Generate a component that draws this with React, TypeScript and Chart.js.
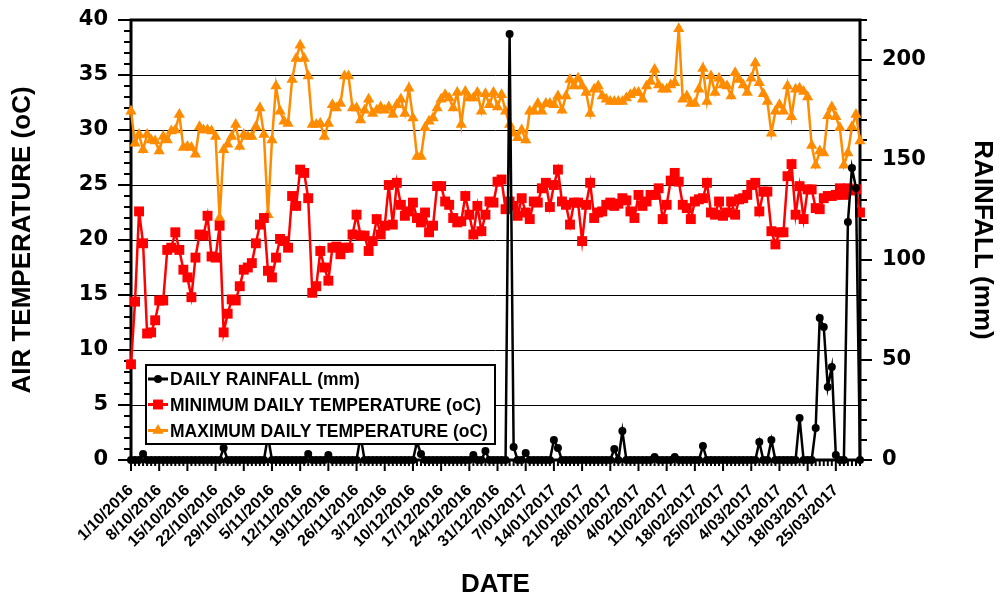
import React, { useEffect, useRef } from 'react';
import { Chart, registerables } from 'chart.js';

Chart.register(...registerables);

// ---- DATA (one value per day, 1/10/2016 .. 31/03/2017) ----
const TICK_LABELS = [
  '1/10/2016', '8/10/2016', '15/10/2016', '22/10/2016', '29/10/2016', '5/11/2016',
  '12/11/2016', '19/11/2016', '26/11/2016', '3/12/2016', '10/12/2016', '17/12/2016',
  '24/12/2016', '31/12/2016', '7/01/2017', '14/01/2017', '21/01/2017', '28/01/2017',
  '4/02/2017', '11/02/2017', '18/02/2017', '25/02/2017', '4/03/2017', '11/03/2017',
  '18/03/2017', '25/03/2017',
];

const RAINFALL = [
  0, 0, 0, 3, 0, 0, 0, 0, 0, 0, 0, 0, 0, 0,
  0, 0, 0, 0, 0, 0, 0, 0, 0, 6, 0, 0, 0, 0,
  0, 0, 0, 0, 0, 0, 12, 0, 0, 0, 0, 0, 0, 0,
  0, 0, 3, 0, 0, 0, 0, 2.5, 0, 0, 0, 0, 0, 0,
  0, 12, 0, 0, 0, 0, 0, 0, 0, 0, 0, 0, 0, 0,
  0, 9, 3, 0, 0, 0, 0, 0, 0, 0, 0, 0, 0, 0,
  0, 2.5, 0, 0, 4.5, 0, 0, 0, 0, 0, 213, 6.5, 0, 0,
  3.5, 0, 0, 0, 0, 0, 0, 10, 6, 0, 0, 0, 0, 0,
  0, 0, 0, 0, 0, 0, 0, 0, 5.5, 0, 14.5, 0, 0, 0,
  0, 0, 0, 0, 1.5, 0, 0, 0, 0, 1.5, 0, 0, 0, 0,
  0, 0, 7, 0, 0, 0, 0, 0, 0, 0, 0, 0, 0, 0,
  0, 0, 9, 0, 0, 10, 0, 0, 0, 0, 0, 0, 21, 0,
  0, 0, 16, 71, 66.5, 36.5, 46.5, 2.5, 0, 0, 119, 146, 136, 0,
];

const MIN_TEMP = [
  8.7, 14.4, 22.6, 19.7, 11.5, 11.6, 12.7, 14.5, 14.5, 19.1, 19.3, 20.7, 19.1, 17.3,
  16.6, 14.8, 18.4, 20.5, 20.4, 22.2, 18.5, 18.4, 21.3, 11.6, 13.3, 14.6, 14.5, 15.8,
  17.3, 17.5, 17.9, 19.7, 21.4, 22.0, 17.2, 16.6, 18.4, 20.1, 19.9, 19.3, 24.0, 23.1,
  26.4, 26.1, 23.8, 15.2, 15.8, 19.0, 17.5, 16.3, 19.3, 19.4, 18.7, 19.3, 19.3, 20.5,
  22.3, 20.4, 20.4, 19.0, 19.9, 21.9, 20.5, 21.3, 25.0, 21.4, 25.2, 23.2, 22.2, 22.6,
  23.4, 22.0, 21.6, 22.5, 20.7, 21.3, 24.9, 24.9, 23.5, 23.2, 22.0, 21.6, 21.7, 24.0,
  22.3, 20.5, 23.1, 20.8, 22.3, 23.5, 23.4, 25.3, 25.5, 22.8, 23.5, 23.1, 22.2, 23.8,
  22.5, 21.9, 23.5, 23.4, 24.7, 25.2, 23.0, 25.0, 26.4, 23.5, 23.2, 21.4, 23.4, 23.4,
  19.9, 23.2, 25.2, 22.0, 22.5, 22.6, 23.2, 23.4, 23.1, 23.3, 23.8, 23.6, 22.6, 22.0,
  24.1, 23.1, 23.5, 24.1, 24.1, 24.7, 21.9, 23.2, 25.4, 26.1, 25.3, 23.2, 22.9, 21.9,
  23.5, 23.7, 23.8, 25.2, 22.5, 22.3, 23.5, 22.2, 22.5, 23.5, 22.3, 23.7, 23.8, 24.1,
  25.0, 25.2, 22.6, 24.4, 24.4, 20.8, 19.6, 20.7, 20.7, 25.8, 26.9, 22.3, 24.9, 21.9,
  24.6, 24.6, 22.9, 22.8, 23.8, 24.0, 24.0, 24.1, 24.7, 24.1, 24.7, 24.5, 24.6, 22.5,
];

const MAX_TEMP = [
  31.7, 28.8, 29.6, 28.2, 29.6, 29.1, 29.0, 28.1, 29.4, 29.1, 29.9, 30.0, 31.4, 28.4,
  28.5, 28.4, 27.8, 30.3, 30.0, 30.0, 29.9, 29.4, 22.0, 28.2, 28.7, 29.4, 30.5, 28.5,
  29.6, 29.4, 29.4, 30.3, 32.0, 29.6, 22.3, 29.1, 34.0, 31.7, 30.8, 30.6, 34.6, 36.5,
  37.7, 36.5, 34.9, 30.5, 30.5, 30.6, 29.4, 30.6, 32.3, 32.0, 32.4, 34.9, 34.9, 32.0,
  32.0, 30.9, 31.8, 32.8, 31.5, 31.8, 32.1, 31.8, 32.1, 31.4, 32.3, 32.8, 31.5, 33.8,
  31.1, 27.6, 27.6, 30.2, 30.8, 31.1, 32.0, 32.8, 33.2, 32.9, 32.0, 33.4, 30.5, 33.5,
  32.9, 32.9, 33.4, 31.7, 33.3, 32.3, 33.4, 32.1, 33.2, 31.7, 30.5, 29.7, 29.3, 30.0,
  29.1, 31.7, 31.7, 32.4, 31.7, 32.4, 32.4, 32.3, 33.1, 31.8, 33.1, 34.6, 34.0, 34.7,
  34.0, 33.4, 31.5, 33.7, 34.0, 33.1, 32.8, 32.6, 32.6, 32.6, 32.6, 32.9, 33.2, 33.4,
  33.4, 32.8, 34.0, 34.4, 35.5, 34.1, 33.7, 33.7, 34.1, 34.3, 39.2, 32.8, 33.1, 32.4,
  32.4, 33.7, 35.6, 32.6, 34.9, 33.4, 34.7, 34.1, 34.0, 33.1, 35.2, 34.6, 34.1, 33.4,
  34.7, 36.1, 34.3, 33.3, 32.6, 29.7, 31.7, 32.3, 31.7, 34.0, 31.2, 33.7, 33.8, 33.5,
  33.0, 28.6, 26.8, 28.1, 27.9, 31.3, 32.1, 31.2, 30.2, 26.8, 27.9, 30.3, 31.4, 29.0,
];

const SERIES_NAMES = [
  'DAILY RAINFALL (mm)',
  'MINIMUM DAILY TEMPERATURE (oC)',
  'MAXIMUM DAILY TEMPERATURE (oC)',
];

const FONT = "'Liberation Sans', Arial, Helvetica, sans-serif";
const NUM_FONT = "'DejaVu Sans', 'Liberation Sans', sans-serif";
const ORANGE = '#FF8C00';
const RED = '#FF0000';
const BLACK = '#000000';
const CLEAR = 'rgba(0,0,0,0)';

function drawMarker(ctx: CanvasRenderingContext2D, style: string, x: number, y: number, r: number, color: string) {
  ctx.fillStyle = color;
  ctx.beginPath();
  if (style === 'circle') {
    ctx.arc(x, y, r, 0, Math.PI * 2);
  } else if (style === 'rect') {
    const s = r * Math.SQRT1_2;
    ctx.rect(x - s, y - s, 2 * s, 2 * s);
  } else {
    let rad = 0;
    ctx.moveTo(x + Math.sin(rad) * r, y - Math.cos(rad) * r);
    rad += (2 * Math.PI) / 3;
    ctx.lineTo(x + Math.sin(rad) * r, y - Math.cos(rad) * r);
    rad += (2 * Math.PI) / 3;
    ctx.lineTo(x + Math.sin(rad) * r, y - Math.cos(rad) * r);
    ctx.closePath();
  }
  ctx.fill();
}

const decor = {
  id: 'decor',
  beforeDatasetsDraw(chart: any) {
    const { ctx, chartArea: a, scales } = chart;
    ctx.save();
    ctx.strokeStyle = BLACK;
    ctx.lineWidth = 2;
    ctx.beginPath();
    for (let v = 0; v <= 40; v += 1) {
      const y = scales.y.getPixelForValue(v);
      const len = v % 5 === 0 ? 13 : 7;
      ctx.moveTo(a.left - len, y);
      ctx.lineTo(a.left, y);
    }
    for (let v = 0; v <= 220; v += 10) {
      const y = scales.y1.getPixelForValue(v);
      const len = v % 50 === 0 ? 12 : 7;
      ctx.moveTo(a.right, y);
      ctx.lineTo(a.right + len, y);
    }
    for (let d = 0; d < MAX_TEMP.length; d += 1) {
      const x = scales.x.getPixelForValue(d);
      const len = d % 7 === 0 ? 11 : 6;
      ctx.moveTo(x, a.bottom);
      ctx.lineTo(x, a.bottom + len);
    }
    ctx.stroke();
    ctx.lineWidth = 3;
    ctx.strokeRect(a.left, a.top, a.right - a.left, a.bottom - a.top);
    ctx.restore();
  },
  afterDraw(chart: any) {
    const { ctx, chartArea: a } = chart;
    const left = a.left + 15;
    const top = a.top + 345;
    const w = 349;
    const h = 79;
    ctx.save();
    ctx.fillStyle = '#ffffff';
    ctx.fillRect(left, top, w, h);
    ctx.strokeStyle = BLACK;
    ctx.lineWidth = 2;
    ctx.strokeRect(left, top, w, h);
    const rows = [14, 39.5, 65.5];
    chart.data.datasets.forEach((ds: any, i: number) => {
      const cy = top + rows[i];
      ctx.strokeStyle = ds.borderColor;
      ctx.lineWidth = 3;
      ctx.beginPath();
      ctx.moveTo(left + 2, cy);
      ctx.lineTo(left + 22, cy);
      ctx.stroke();
      drawMarker(ctx, ds.pointStyle, left + 12, cy, ds.pointRadius, ds.backgroundColor);
      ctx.fillStyle = BLACK;
      ctx.font = `bold 17.5px ${FONT}`;
      ctx.textAlign = 'left';
      ctx.textBaseline = 'alphabetic';
      ctx.fillText(ds.label, left + 24, cy + 6.3);
    });
    ctx.restore();
  },
};

export default function App() {
  const ref = useRef<HTMLCanvasElement>(null);

  useEffect(() => {
    document.body.style.margin = '0';
    const toPts = (arr: number[]) => arr.map((v, i) => ({ x: i, y: v }));
    const chart = new Chart(ref.current as HTMLCanvasElement, {
      type: 'line',
      data: {
        datasets: [
          {
            label: SERIES_NAMES[0],
            data: toPts(RAINFALL),
            yAxisID: 'y1',
            borderColor: BLACK,
            backgroundColor: BLACK,
            borderWidth: 2.5,
            pointStyle: 'circle',
            pointRadius: 4,
            pointBorderWidth: 0,
            pointBackgroundColor: BLACK,
            clip: false,
            order: 0,
          },
          {
            label: SERIES_NAMES[1],
            data: toPts(MIN_TEMP),
            yAxisID: 'y',
            borderColor: RED,
            backgroundColor: RED,
            borderWidth: 2.5,
            pointStyle: 'rect',
            pointRadius: 7,
            pointBorderWidth: 0,
            pointBackgroundColor: RED,
            clip: false,
            order: 1,
          },
          {
            label: SERIES_NAMES[2],
            data: toPts(MAX_TEMP),
            yAxisID: 'y',
            borderColor: ORANGE,
            backgroundColor: ORANGE,
            borderWidth: 2.5,
            pointStyle: 'triangle',
            pointRadius: 6.5,
            pointBorderWidth: 0,
            pointBackgroundColor: ORANGE,
            clip: false,
            order: 2,
          },
        ] as any,
      },
      options: {
        responsive: false,
        animation: false,
        events: [],
        layout: { padding: { top: 20, left: 0, right: 0, bottom: 0 } },
        plugins: { legend: { display: false }, tooltip: { enabled: false } },
        scales: {
          x: {
            type: 'linear',
            min: 0,
            max: MAX_TEMP.length - 1,
            afterFit: (s: any) => { s.height = 138; },
            border: { display: false },
            grid: { display: false, drawTicks: false },
            ticks: {
              stepSize: 7,
              autoSkip: false,
              includeBounds: false,
              minRotation: 45,
              maxRotation: 45,
              padding: 21,
              color: BLACK,
              font: { family: FONT, size: 16, weight: 'bold' },
              callback: (v: any) => TICK_LABELS[Math.round(Number(v) / 7)] ?? '',
            },
            title: {
              display: true,
              text: 'DATE',
              color: BLACK,
              font: { family: FONT, size: 26, weight: 'bold', lineHeight: 1 },
              padding: { top: 0, bottom: 0 },
            },
          },
          y: {
            type: 'linear',
            position: 'left',
            min: 0,
            max: 40,
            afterFit: (s: any) => { s.width = 131; },
            border: { display: false },
            grid: {
              display: true,
              drawOnChartArea: true,
              drawTicks: true,
              tickLength: 23,
              tickColor: CLEAR,
              color: BLACK,
              lineWidth: 1,
            },
            ticks: {
              stepSize: 5,
              includeBounds: false,
              padding: 0,
              color: BLACK,
              font: { family: NUM_FONT, size: 21, weight: 'bold' },
            },
            title: {
              display: true,
              text: 'AIR TEMPERATURE (oC)',
              color: BLACK,
              font: { family: FONT, size: 26, weight: 'bold' },
              padding: { top: 7, bottom: 0 },
            },
          },
          y1: {
            type: 'linear',
            position: 'right',
            min: 0,
            max: 220,
            afterFit: (s: any) => { s.width = 139; },
            border: { display: false },
            grid: {
              display: true,
              drawOnChartArea: false,
              drawTicks: true,
              tickLength: 22,
              tickColor: CLEAR,
              color: CLEAR,
            },
            ticks: {
              stepSize: 50,
              includeBounds: false,
              padding: 0,
              color: BLACK,
              font: { family: NUM_FONT, size: 21, weight: 'bold' },
            },
            title: {
              display: true,
              text: 'RAINFALL (mm)',
              color: BLACK,
              font: { family: FONT, size: 26, weight: 'bold' },
              padding: { top: 1, bottom: 0 },
            },
          },
        },
      } as any,
      plugins: [decor],
    });
    return () => chart.destroy();
  }, []);

  return <canvas ref={ref} width={999} height={598} style={{ display: 'block' }} />;
}
